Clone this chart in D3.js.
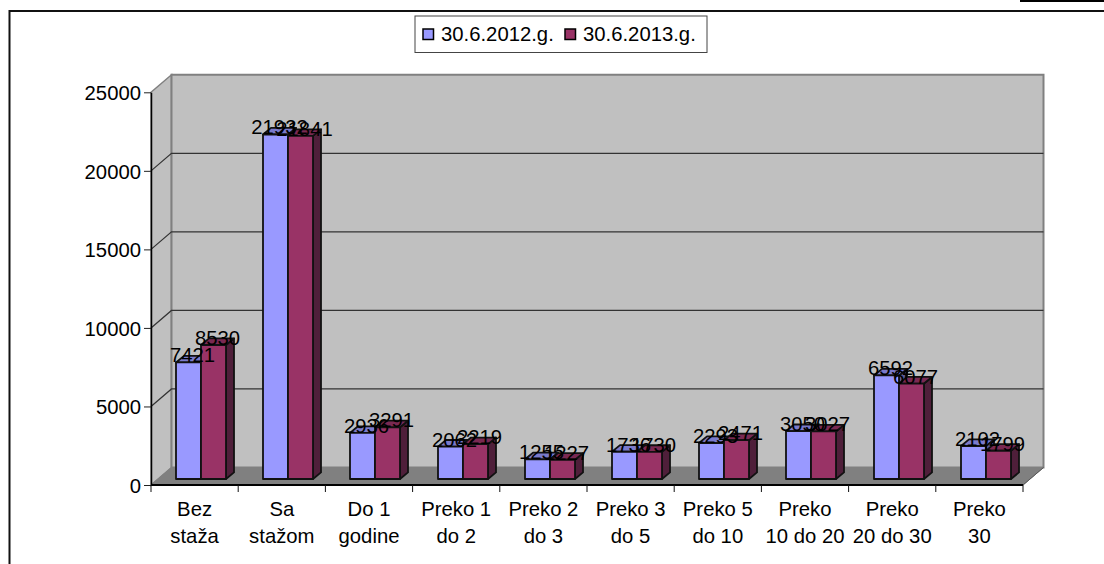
<!DOCTYPE html>
<html>
<head>
<meta charset="utf-8">
<script src="https://cdn.jsdelivr.net/npm/d3@7"></script>
<style>
  html, body { margin: 0; padding: 0; background: #fff; overflow: hidden; }
  svg { display: block; }
  text { font-family: "Liberation Sans", Arial, sans-serif; font-size: 20.3px; fill: #000; }
</style>
</head>
<body>
<svg id="chart" width="1104" height="564"></svg>
<script>
// category labels, one entry per line
const categories = ['Bez staža', 'Sa stažom', 'Do 1 godine', 'Preko 1 do 2', 'Preko 2 do 3',
                    'Preko 3 do 5', 'Preko 5 do 10', 'Preko 10 do 20', 'Preko 20 do 30', 'Preko 30'];
const categoryLines = [['Bez', 'staža'], ['Sa', 'stažom'], ['Do 1', 'godine'], ['Preko 1', 'do 2'], ['Preko 2', 'do 3'],
                       ['Preko 3', 'do 5'], ['Preko 5', 'do 10'], ['Preko', '10 do 20'], ['Preko', '20 do 30'], ['Preko', '30']];
const seriesNames = ['30.6.2012.g.', '30.6.2013.g.'];
const values2012 = [7421, 21932, 2936, 2062, 1255, 1736, 2293, 3050, 6592, 2102];
const values2013 = [8530, 21841, 3291, 2219, 1227, 1730, 2471, 3027, 6077, 1799];
const yTicks = [0, 5000, 10000, 15000, 20000, 25000];

const colors = ['#9999ff', '#993366'];
const topColors = ['#7a7acc', '#7a2952'];
const sideColors = ['#5c5c99', '#4f1f3a'];

const svg = d3.select('#chart');
const X0 = 151, X1 = 1023, Y0 = 485, YT = 92.3;
const WALL_DX = 20.5, WALL_DY = 17.5;   // depth of the 3d box
const BAR_DX = 8, BAR_DY = 6.6;         // depth of one bar
const BAR_OFF_X = 6.4, BAR_OFF_Y = 6;   // bars sit inside the floor

const x = d3.scaleBand().domain(categories).range([X0, X1]);
const yScale = d3.scaleLinear().domain([0, 25000]).range([Y0, YT]);
const inner = d3.scaleBand().domain(seriesNames).range([18.6, 68.6]);

const poly = pts => pts.map(p => p.join(',')).join(' ');

// outer frame, runs off the right and bottom of the page
svg.append('path').attr('d', 'M9.5,564 V11 H1104').attr('fill', 'none').attr('stroke', '#111').attr('stroke-width', 2);
svg.append('rect').attr('x', 1020).attr('y', 0).attr('width', 84).attr('height', 2).attr('fill', '#000');

// legend
const legend = svg.append('g');
legend.append('rect').attr('x', 415).attr('y', 16).attr('width', 292).attr('height', 36.5)
  .attr('fill', '#fff').attr('stroke', '#444').attr('stroke-width', 1);
const legendX = d3.scaleOrdinal().domain(seriesNames).range([423, 565]);
seriesNames.forEach((s, i) => {
  legend.append('rect').attr('x', legendX(s)).attr('y', 29).attr('width', 10.5).attr('height', 10.5)
    .attr('fill', colors[i]).attr('stroke', '#000').attr('stroke-width', 1.5);
  legend.append('text').attr('x', legendX(s) + 18).attr('y', 41).text(s);
});

// walls and floor
const yTop = yScale(25000);
svg.append('polygon').attr('points', poly([[X0, yTop], [X0 + WALL_DX, yTop - WALL_DY], [X0 + WALL_DX, Y0 - WALL_DY], [X0, Y0]]))
  .attr('fill', '#c0c0c0').attr('stroke', '#808080').attr('stroke-width', 1.5);
svg.append('polygon').attr('points', poly([[X0 + WALL_DX, yTop - WALL_DY], [X1 + WALL_DX, yTop - WALL_DY], [X1 + WALL_DX, Y0 - WALL_DY], [X0 + WALL_DX, Y0 - WALL_DY]]))
  .attr('fill', '#c0c0c0').attr('stroke', '#808080').attr('stroke-width', 2);
svg.append('polygon').attr('points', poly([[X0, Y0], [X0 + WALL_DX, Y0 - WALL_DY], [X1 + WALL_DX, Y0 - WALL_DY], [X1, Y0]]))
  .attr('fill', '#808080').attr('stroke', '#808080');
svg.append('line').attr('x1', X1).attr('y1', Y0).attr('x2', X1 + WALL_DX).attr('y2', Y0 - WALL_DY)
  .attr('stroke', '#555').attr('stroke-width', 1);

// gridlines: diagonal on the side wall, then across the back
const grid = svg.append('g').attr('fill', 'none').attr('stroke', '#333').attr('stroke-width', 1.2);
yTicks.filter(t => t > 0 && t < 25000).forEach(t => {
  grid.append('path').attr('d', `M${X0},${yScale(t)} L${X0 + WALL_DX},${yScale(t) - WALL_DY} H${X1 + WALL_DX}`);
});

// axes
const yAxis = svg.append('g').attr('transform', `translate(${X0},0)`)
  .call(d3.axisLeft(yScale).tickValues(yTicks).tickFormat(d3.format('d')).tickSize(7).tickSizeOuter(0).tickPadding(3));
yAxis.selectAll('text').style('font-size', '20.3px').style('font-family', '"Liberation Sans"').attr('dy', '0.36em');
yAxis.select('.domain').attr('stroke', '#000').attr('stroke-width', 1.5);
yAxis.selectAll('.tick line').attr('stroke', '#222');

svg.append('line').attr('x1', X0).attr('x2', X1).attr('y1', Y0).attr('y2', Y0).attr('stroke', '#000').attr('stroke-width', 2);
const xTicks = categories.map(c => x(c)).concat([X1]);
svg.append('g').selectAll('line').data(xTicks).enter().append('line')
  .attr('x1', d => d).attr('x2', d => d).attr('y1', Y0).attr('y2', Y0 + 7)
  .attr('stroke', '#111').attr('stroke-width', 1);

const xLabels = svg.append('g').selectAll('text').data(categories).enter().append('text')
  .attr('text-anchor', 'middle');
xLabels.each(function (c, i) {
  categoryLines[i].forEach((line, j) => {
    d3.select(this).append('tspan').attr('x', x(c) + x.bandwidth() / 2).attr('y', 516 + j * 26.5).text(line);
  });
});

// bars
const seriesValues = [values2012, values2013];
const bars = svg.append('g').attr('stroke', '#111').attr('stroke-width', 1.8).attr('stroke-linejoin', 'round');
const labels = [];
categories.forEach((c, ci) => {
  seriesNames.forEach((s, si) => {
    const v = seriesValues[si][ci];
    const bx = Math.round(x(c) + inner(s) + BAR_OFF_X);
    const bw = inner.bandwidth();
    const by0 = yScale(0) - BAR_OFF_Y, by1 = yScale(v) - BAR_OFF_Y;
    bars.append('polygon').attr('fill', sideColors[si])
      .attr('points', poly([[bx + bw, by1], [bx + bw + BAR_DX, by1 - BAR_DY], [bx + bw + BAR_DX, by0 - BAR_DY], [bx + bw, by0]]));
    bars.append('polygon').attr('fill', topColors[si])
      .attr('points', poly([[bx, by1], [bx + BAR_DX, by1 - BAR_DY], [bx + bw + BAR_DX, by1 - BAR_DY], [bx + bw, by1]]));
    bars.append('rect').attr('fill', colors[si]).attr('x', bx).attr('y', by1).attr('width', bw).attr('height', by0 - by1);
    labels.push({ v, x: bx + bw / 2 + BAR_DX / 2, y: by1 });
  });
});

// data labels go over everything, they overlap in the original too
svg.append('g').selectAll('text').data(labels).enter().append('text')
  .attr('text-anchor', 'middle').attr('x', d => d.x).attr('y', d => d.y).text(d => d.v);
</script>
</body>
</html>
